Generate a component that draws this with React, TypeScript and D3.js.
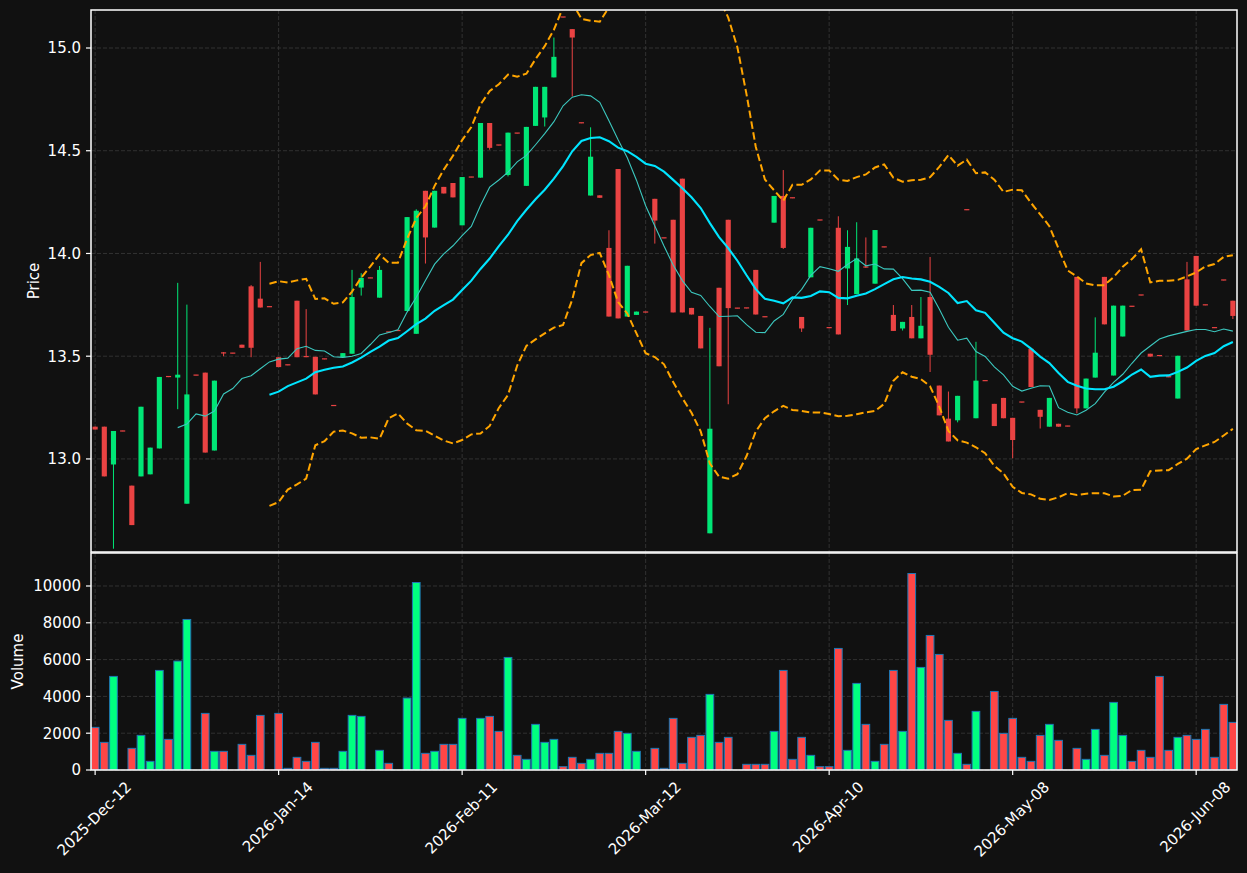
import React, { useEffect, useRef } from 'react';
import * as d3 from 'd3';

// OHLCV values, one entry per trading day
const opens = [
  13.157, 13.157, 12.973, 13.136, 12.87, 12.915, 12.925, 13.051, 13.401, 13.396,
  12.782, 13.408, 13.42, 13.041, 13.516, 13.515, 13.556, 13.84, 13.78, 13.741,
  13.495, 13.458, 13.77, 13.498, 13.497, 13.487, 13.26, 13.495, 13.512, 13.834,
  13.881, 13.785, 13.618, 13.625, 13.72, 13.609, 14.305, 14.126, 14.324, 14.343,
  14.137, 14.372, 14.369, 14.635, 14.528, 14.382, 14.586, 14.329, 14.621, 14.662,
  14.857, 15.151, 15.092, 14.636, 14.282, 14.283, 14.027, 14.411, 13.693, 13.701,
  13.715, 14.266, 14.076, 14.164, 14.364, 13.735, 13.696, 12.638, 13.833, 14.164,
  13.734, 13.735, 13.92, 13.692, 14.15, 14.28, 14.271, 13.691, 13.884, 14.163,
  13.639, 14.125, 13.927, 13.802, 13.934, 13.853, 14.032, 13.701, 13.635, 13.691,
  13.587, 13.788, 13.357, 13.196, 13.188, 14.213, 13.198, 13.381, 13.268, 13.297,
  13.2, 13.277, 13.536, 13.239, 13.157, 13.171, 13.16, 13.886, 13.246, 13.396,
  13.886, 13.406, 13.596, 13.743, 13.798, 13.512, 13.503, 13.4, 13.294, 13.874,
  13.988, 13.75, 13.639, 13.871, 13.77
];
const highs = [
  13.157, 13.157, 13.136, 13.137, 12.87, 13.254, 13.055, 13.399, 13.401, 13.857,
  13.751, 13.409, 13.42, 13.381, 13.52, 13.516, 13.556, 13.846, 13.959, 13.742,
  13.495, 13.458, 13.77, 13.729, 13.497, 13.487, 13.26, 13.515, 13.92, 13.904,
  13.882, 13.939, 13.618, 13.626, 14.177, 14.215, 14.305, 14.305, 14.324, 14.343,
  14.372, 14.373, 14.635, 14.635, 14.528, 14.588, 14.586, 14.616, 14.811, 14.811,
  15.051, 15.151, 15.092, 14.636, 14.614, 14.283, 14.113, 14.411, 13.94, 13.717,
  13.716, 14.266, 14.076, 14.164, 14.364, 13.735, 13.696, 13.638, 13.833, 14.164,
  13.735, 13.735, 13.92, 13.692, 14.28, 14.406, 14.271, 13.691, 14.125, 14.163,
  13.639, 14.181, 14.113, 14.152, 14.078, 14.114, 14.032, 13.749, 13.667, 13.749,
  13.788, 13.983, 13.357, 13.328, 13.307, 14.213, 13.57, 13.382, 13.268, 13.297,
  13.2, 13.277, 13.536, 13.239, 13.297, 13.171, 13.161, 13.886, 13.391, 13.689,
  13.886, 13.746, 13.746, 13.743, 13.798, 13.512, 13.503, 13.4, 13.502, 13.959,
  13.988, 13.75, 13.639, 13.871, 13.77
];
const lows = [
  13.143, 12.915, 12.563, 13.135, 12.678, 12.915, 12.925, 13.051, 13.398, 13.242,
  12.782, 13.407, 13.031, 13.041, 13.5, 13.514, 13.541, 13.495, 13.737, 13.74,
  13.447, 13.456, 13.495, 13.495, 13.314, 13.485, 13.258, 13.495, 13.512, 13.795,
  13.88, 13.785, 13.616, 13.624, 13.72, 13.609, 13.951, 14.126, 14.292, 14.273,
  14.137, 14.371, 14.369, 14.505, 14.526, 14.375, 14.584, 14.329, 14.621, 14.618,
  14.857, 15.149, 14.764, 14.634, 14.282, 14.271, 13.693, 13.684, 13.693, 13.701,
  13.714, 14.048, 14.074, 13.713, 13.713, 13.703, 13.538, 12.638, 13.451, 13.266,
  13.733, 13.733, 13.703, 13.69, 14.15, 14.022, 14.269, 13.618, 13.884, 14.161,
  13.637, 13.606, 13.749, 13.802, 13.93, 13.853, 14.03, 13.623, 13.625, 13.587,
  13.587, 13.423, 13.212, 13.085, 13.178, 14.211, 13.198, 13.38, 13.16, 13.198,
  13.003, 13.275, 13.35, 13.148, 13.157, 13.157, 13.159, 13.222, 13.246, 13.396,
  13.655, 13.406, 13.596, 13.741, 13.796, 13.498, 13.501, 13.398, 13.294, 13.625,
  13.746, 13.748, 13.637, 13.869, 13.681
];
const closes = [
  13.143, 12.915, 13.136, 13.136, 12.678, 13.254, 13.055, 13.399, 13.398, 13.41,
  13.314, 13.408, 13.031, 13.381, 13.514, 13.515, 13.541, 13.541, 13.737, 13.741,
  13.447, 13.456, 13.495, 13.496, 13.314, 13.485, 13.258, 13.515, 13.788, 13.881,
  13.881, 13.92, 13.616, 13.625, 14.177, 14.208, 14.078, 14.305, 14.292, 14.273,
  14.372, 14.372, 14.635, 14.514, 14.526, 14.588, 14.584, 14.616, 14.811, 14.811,
  14.957, 15.149, 15.051, 14.634, 14.471, 14.271, 13.693, 13.684, 13.94, 13.717,
  13.715, 14.16, 14.074, 13.713, 13.713, 13.703, 13.538, 13.147, 13.451, 13.734,
  13.734, 13.733, 13.703, 13.69, 14.28, 14.027, 14.269, 13.635, 14.125, 14.161,
  13.637, 13.606, 14.032, 13.976, 13.932, 14.114, 14.03, 13.623, 13.667, 13.587,
  13.648, 13.507, 13.212, 13.085, 13.307, 14.211, 13.381, 13.381, 13.16, 13.198,
  13.092, 13.275, 13.35, 13.205, 13.297, 13.157, 13.16, 13.246, 13.391, 13.517,
  13.655, 13.746, 13.746, 13.741, 13.796, 13.498, 13.501, 13.398, 13.502, 13.625,
  13.746, 13.748, 13.637, 13.869, 13.696
];
const volumes = [
  2317, 1502, 5086, 0, 1176, 1882, 470, 5412, 1665, 5919,
  8181, 0, 3077, 1014, 1014, 0, 1394, 796, 2968, 0,
  3077, 90, 688, 470, 1502, 90, 90, 1014, 2968, 2914,
  0, 1068, 362, 0, 3910, 10190, 905, 1014, 1394, 1394,
  2805, 0, 2805, 2914, 2100, 6118, 796, 579, 2480, 1502,
  1665, 181, 688, 362, 579, 905, 905, 2100, 1991, 1014,
  0, 1176, 90, 2805, 362, 1774, 1882, 4109, 1502, 1774,
  0, 308, 308, 308, 2100, 5412, 579, 1774, 796, 181,
  181, 6606, 1068, 4706, 2480, 470, 1394, 5412, 2100, 10679,
  5575, 7312, 6281, 2697, 905, 308, 3186, 0, 4271, 1991,
  2805, 688, 470, 1882, 2480, 1611, 0, 1176, 579, 2208,
  796, 3674, 1882, 470, 1068, 688, 5086, 1068, 1774, 1882,
  1665, 2208, 688, 3566, 2588
];

const tickIndex = [0, 20, 40, 60, 80, 100, 120];
const tickLabels = ['2025-Dec-12', '2026-Jan-14', '2026-Feb-11', '2026-Mar-12', '2026-Apr-10', '2026-May-08', '2026-Jun-08'];
const priceTicks = [13.0, 13.5, 14.0, 14.5, 15.0];
const volumeTicks = [0, 2000, 4000, 6000, 8000, 10000];

const W = 1247;
const H = 873;
const FONT = '"DejaVu Sans", sans-serif';

function rolling(values: number[], n: number, fn: (a: number[]) => number | undefined) {
  return values.map((_, i) => (i < n - 1 ? null : (fn(values.slice(i - n + 1, i + 1)) as number)));
}

function App() {
  const ref = useRef<SVGSVGElement>(null);

  useEffect(() => {
    const svg = d3.select(ref.current);
    svg.selectAll('*').remove();

    const left = 91, right = 1237;
    const pTop = 10, pBottom = 552, vTop = 553, vBottom = 770;

    const x = d3.scaleLinear().domain([-0.45, closes.length - 1 + 0.45]).range([left, right]);
    const yP = d3.scaleLinear().domain([12.547, 15.185]).range([pBottom, pTop]);
    const yV = d3.scaleLinear().domain([0, 11793]).range([vBottom, vTop]);
    const step = x(1) - x(0);

    const upC = '#00e676', downC = '#ea4343';
    const upV = '#00ff80', downV = '#ff4646';
    const gridC = '#3a3a3a';

    svg.append('rect').attr('width', W).attr('height', H).attr('fill', '#111111');

    const defs = svg.append('defs');
    defs.append('clipPath').attr('id', 'clipP')
      .append('rect').attr('x', left).attr('y', pTop).attr('width', right - left).attr('height', pBottom - pTop);
    defs.append('clipPath').attr('id', 'clipV')
      .append('rect').attr('x', left).attr('y', vTop).attr('width', right - left).attr('height', vBottom - vTop);

    // grids
    const grid = svg.append('g').attr('stroke', gridC).attr('stroke-width', 0.8).attr('stroke-dasharray', '4,2');
    tickIndex.forEach(i => {
      grid.append('line').attr('x1', x(i)).attr('x2', x(i)).attr('y1', pTop).attr('y2', pBottom);
      grid.append('line').attr('x1', x(i)).attr('x2', x(i)).attr('y1', vTop).attr('y2', vBottom);
    });
    priceTicks.forEach(t => {
      grid.append('line').attr('x1', left).attr('x2', right).attr('y1', yP(t)).attr('y2', yP(t));
    });
    volumeTicks.forEach(t => {
      grid.append('line').attr('x1', left).attr('x2', right).attr('y1', yV(t)).attr('y2', yV(t));
    });

    // candles
    const cg = svg.append('g').attr('clip-path', 'url(#clipP)');
    const bodyW = step * 0.56;
    closes.forEach((c, i) => {
      const o = opens[i];
      const col = c > o ? upC : downC;
      cg.append('line')
        .attr('x1', x(i)).attr('x2', x(i))
        .attr('y1', yP(highs[i])).attr('y2', yP(lows[i]))
        .attr('stroke', col).attr('stroke-width', 1);
      const yt = yP(Math.max(o, c));
      const raw = Math.abs(yP(o) - yP(c));
      const h = Math.max(1.2, raw);
      cg.append('rect')
        .attr('x', x(i) - bodyW / 2).attr('y', yt - (h > raw ? 0.6 : 0))
        .attr('width', bodyW).attr('height', h)
        .attr('fill', col);
    });

    // moving averages and bollinger bands
    const ma10 = rolling(closes, 10, a => d3.mean(a));
    const ma20 = rolling(closes, 20, a => d3.mean(a));
    const sd20 = rolling(closes, 20, a => d3.deviation(a));
    const upper = ma20.map((m, i) => (m == null ? null : m + 2 * (sd20[i] as number)));
    const lower = ma20.map((m, i) => (m == null ? null : m - 2 * (sd20[i] as number)));

    const line = d3.line<number | null>()
      .defined(d => d != null)
      .x((_, i) => x(i))
      .y(d => yP(d as number));

    cg.append('path').attr('d', line(upper)).attr('fill', 'none')
      .attr('stroke', '#ffa500').attr('stroke-width', 2).attr('stroke-dasharray', '7.5,3.5');
    cg.append('path').attr('d', line(lower)).attr('fill', 'none')
      .attr('stroke', '#ffa500').attr('stroke-width', 2).attr('stroke-dasharray', '7.5,3.5');
    cg.append('path').attr('d', line(ma10)).attr('fill', 'none')
      .attr('stroke', '#3cc8bf').attr('stroke-width', 1.1);
    cg.append('path').attr('d', line(ma20)).attr('fill', 'none')
      .attr('stroke', '#00e5ff').attr('stroke-width', 2.1);

    // volume bars
    const vg = svg.append('g').attr('clip-path', 'url(#clipV)');
    const barW = step * 0.84;
    volumes.forEach((v, i) => {
      if (v <= 0) return;
      const col = closes[i] > opens[i] ? upV : downV;
      vg.append('rect')
        .attr('x', x(i) - barW / 2).attr('y', yV(v))
        .attr('width', barW).attr('height', yV(0) - yV(v))
        .attr('fill', col).attr('stroke', '#1f77b4').attr('stroke-width', 1);
    });

    // spines
    const sp = svg.append('g').attr('fill', 'none').attr('stroke', '#ffffff').attr('stroke-width', 1.5);
    sp.append('rect').attr('x', left).attr('y', pTop).attr('width', right - left).attr('height', pBottom - pTop);
    sp.append('rect').attr('x', left).attr('y', vTop).attr('width', right - left).attr('height', vBottom - vTop);

    // y ticks
    const ax = svg.append('g').attr('font-family', FONT).attr('font-size', 15).attr('fill', '#ffffff');
    priceTicks.forEach(t => {
      ax.append('line').attr('x1', left - 5).attr('x2', left).attr('y1', yP(t)).attr('y2', yP(t))
        .attr('stroke', '#ffffff').attr('stroke-width', 1.2);
      ax.append('text').attr('x', left - 10).attr('y', yP(t)).attr('dy', '0.36em')
        .attr('text-anchor', 'end').text(d3.format('.1f')(t));
    });
    volumeTicks.forEach(t => {
      ax.append('line').attr('x1', left - 5).attr('x2', left).attr('y1', yV(t)).attr('y2', yV(t))
        .attr('stroke', '#ffffff').attr('stroke-width', 1.2);
      ax.append('text').attr('x', left - 10).attr('y', yV(t)).attr('dy', '0.36em')
        .attr('text-anchor', 'end').text(String(t));
    });

    // x ticks with rotated labels
    const asc = 11.2, desc = 3.5, topY = vBottom + 10;
    tickIndex.forEach((idx, k) => {
      const tx = x(idx);
      ax.append('line').attr('x1', tx).attr('x2', tx).attr('y1', vBottom).attr('y2', vBottom + 5)
        .attr('stroke', '#ffffff').attr('stroke-width', 1.2);
      const t = ax.append('text').attr('text-anchor', 'end').text(tickLabels[k]);
      const L = (t.node() as SVGTextElement).getComputedTextLength();
      const px = tx + 0.3536 * (L + asc - desc);
      const py = topY + 0.7071 * asc;
      t.attr('transform', `translate(${px},${py}) rotate(-45)`);
    });

    // axis titles
    ax.append('text').attr('transform', `translate(39,${(pTop + pBottom) / 2}) rotate(-90)`)
      .attr('text-anchor', 'middle').text('Price');
    ax.append('text').attr('transform', `translate(23,${(vTop + vBottom) / 2}) rotate(-90)`)
      .attr('text-anchor', 'middle').text('Volume');
  }, []);

  return (
    <div style={{ position: 'absolute', left: 0, top: 0, background: '#111111' }}>
      <svg ref={ref} width={W} height={H} style={{ display: 'block' }}></svg>
    </div>
  );
}

export default App;
